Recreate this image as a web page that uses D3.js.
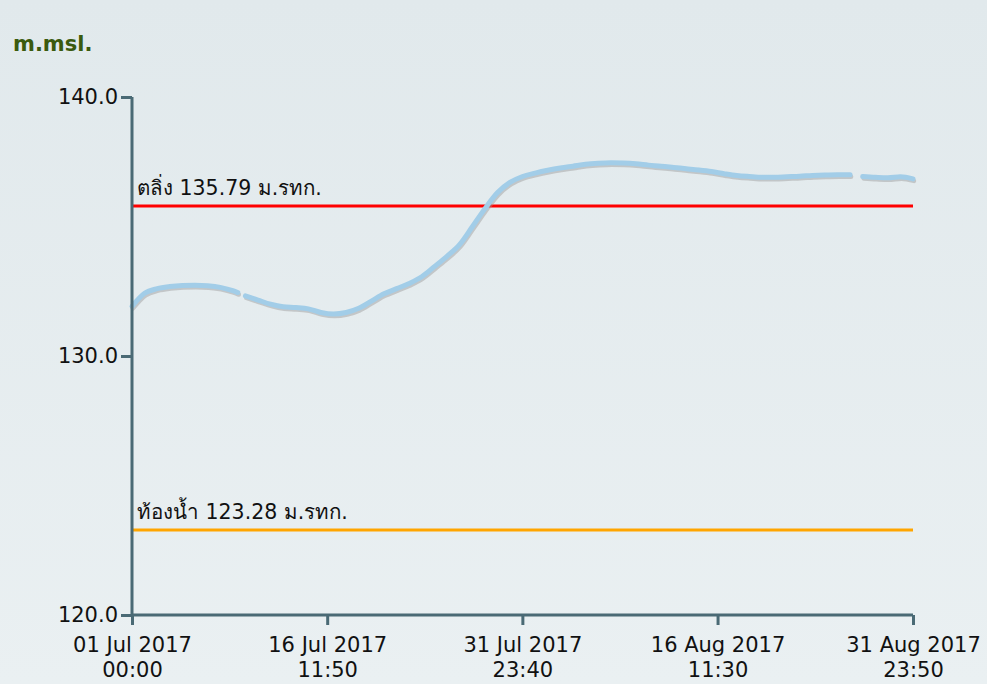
<!DOCTYPE html>
<html>
<head>
<meta charset="utf-8">
<script src="https://cdn.jsdelivr.net/npm/d3@7"></script>
<style>
html,body{margin:0;padding:0;}
body{width:987px;height:684px;overflow:hidden;}
svg{display:block;}
</style>
</head>
<body>
<svg id="chart" width="987" height="684"></svg>
<script>
// ---- data ----
const startTime = "2017-07-01T00:00";
const endTime = "2017-08-31T23:50";
// segment 1 (days offset from 01 Jul 00:00, water level m.msl.)
const seg1Days = [0,1,2,3,4,5,6,7,8,8.4];
const seg1Vals = [131.92,132.42,132.60,132.68,132.72,132.73,132.71,132.65,132.52,132.45];
const seg2Days = [9,10,11,12,13,14,15,16,17,18,19,20,21,22,23,24,25,26,27,28,29,30,31,32,33,34,35,36,37,38,39,40,41,42,43,44,45,46,47,48,49,50,51,52,53,54,55,56,57];
const seg2Vals = [132.32,132.16,132.00,131.90,131.87,131.82,131.68,131.62,131.68,131.84,132.12,132.40,132.60,132.80,133.06,133.45,133.85,134.30,134.98,135.68,136.30,136.70,136.93,137.06,137.17,137.26,137.33,137.40,137.44,137.46,137.45,137.42,137.37,137.33,137.28,137.23,137.18,137.12,137.04,136.97,136.93,136.90,136.90,136.92,136.94,136.97,136.99,137.00,137.00];
const seg3Days = [58,59,60,61,61.99];
const seg3Vals = [136.93,136.90,136.88,136.92,136.84];
const bankLevel = 135.79, bankLabel = "ตลิ่ง 135.79 ม.รทก.";
const bedLevel = 123.28, bedLabel = "ท้องน้ำ 123.28 ม.รทก.";
const yTicks = [120,130,140];
const xTickTimes = ["2017-07-01T00:00","2017-07-16T11:50","2017-07-31T23:40","2017-08-16T11:30","2017-08-31T23:50"];
const xTickLine1 = ["01 Jul 2017","16 Jul 2017","31 Jul 2017","16 Aug 2017","31 Aug 2017"];
const xTickLine2 = ["00:00","11:50","23:40","11:30","23:50"];
const unitLabel = "m.msl.";

// ---- layout ----
const svg = d3.select("#chart");
const W = 987, H = 684;
const x0 = 132, x1 = 913, yTop = 97, yBot = 615;
const parse = d3.timeParse("%Y-%m-%dT%H:%M");
const t0 = parse(startTime);
const x = d3.scaleTime().domain([t0, parse(endTime)]).range([x0, x1]);
const y = d3.scaleLinear().domain([120, 140]).range([yBot, yTop]);
const dayToDate = d => new Date(t0.getTime() + d * 86400000);

const defs = svg.append("defs");
const grad = defs.append("linearGradient").attr("id","bg").attr("x1",0).attr("y1",0).attr("x2",0).attr("y2",1);
grad.append("stop").attr("offset","0%").attr("stop-color","#e1e9ec");
grad.append("stop").attr("offset","100%").attr("stop-color","#eaf0f2");
svg.append("rect").attr("width",W).attr("height",H).attr("fill","url(#bg)");

const font = "'DejaVu Sans', Verdana, sans-serif";

// title
svg.append("text").attr("x",13).attr("y",51).text(unitLabel)
  .attr("font-family",font).attr("font-weight","bold").attr("font-size",21).attr("fill","#3b5a0e");

// reference lines
function refLine(level, color, label) {
  svg.append("line").attr("x1",x0).attr("x2",x1).attr("y1",y(level)).attr("y2",y(level))
    .attr("stroke",color).attr("stroke-width",3);
  svg.append("text").attr("x",137).attr("y",y(level)-11).text(label)
    .attr("font-family",font).attr("font-size",20.5).attr("fill","#111");
}
refLine(bankLevel, "#ff0000", bankLabel);
refLine(bedLevel, "#ffa500", bedLabel);

// series
const line = d3.line().x(d => x(d[0])).y(d => y(d[1])).curve(d3.curveMonotoneX);
const segs = [[seg1Days,seg1Vals],[seg2Days,seg2Vals],[seg3Days,seg3Vals]]
  .map(([ds,vs]) => ds.map((d,i) => [dayToDate(d), vs[i]]));
segs.forEach(s => {
  svg.append("path").attr("d", line(s)).attr("fill","none")
    .attr("stroke","#9a9a9a").attr("stroke-opacity",0.45).attr("stroke-width",4.5)
    .attr("stroke-linecap","round").attr("transform","translate(1,2)");
});
segs.forEach(s => {
  svg.append("path").attr("d", line(s)).attr("fill","none")
    .attr("stroke","#a2cde8").attr("stroke-width",5).attr("stroke-linecap","round");
});

// axes
const axisColor = "#4a6a75";
const yAxis = svg.append("g").attr("transform",`translate(${x0},0)`)
  .call(d3.axisLeft(y).tickValues(yTicks).tickFormat(d3.format(".1f")).tickSize(11).tickPadding(3));
const xAxis = svg.append("g").attr("transform",`translate(0,${yBot})`)
  .call(d3.axisBottom(x).tickValues(xTickTimes.map(parse)).tickFormat("").tickSize(10));
[yAxis, xAxis].forEach(g => {
  g.select(".domain").attr("stroke",axisColor).attr("stroke-width",3)
    .attr("d", g === yAxis ? `M0,${yTop}V${yBot}` : `M${x0},0H${x1}`);
  g.selectAll(".tick line").attr("stroke",axisColor).attr("stroke-width",3);
});
yAxis.selectAll(".tick text").attr("font-family",font).attr("font-size",21).attr("fill","#111");

const xt = xAxis.selectAll(".tick text");
xt.each(function(d,i){
  const t = d3.select(this).text(null).attr("font-family",font).attr("font-size",21).attr("fill","#111").attr("y",0).attr("dy",null);
  t.append("tspan").attr("x",0).attr("y",37).text(xTickLine1[i]);
  t.append("tspan").attr("x",0).attr("y",62).text(xTickLine2[i]);
});
</script>
</body>
</html>
